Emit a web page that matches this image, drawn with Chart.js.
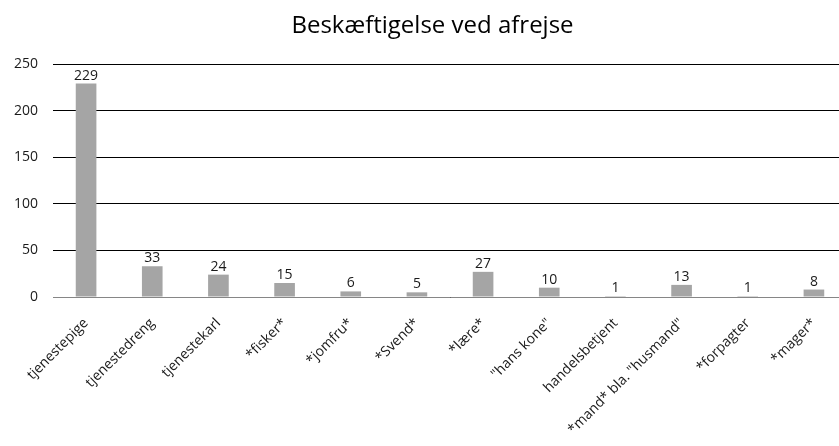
<!DOCTYPE html>
<html><head><meta charset="utf-8">
<script src="https://cdn.jsdelivr.net/npm/chart.js@4/dist/chart.umd.min.js"></script>
<style>html,body{margin:0;padding:0;background:#fff;overflow:hidden}#w{width:847px;height:446px}</style>
</head><body><div id="w"><canvas id="c"></canvas></div>
<script>
const categories = ["tjenestepige","tjenestedreng","tjenestekarl","*fisker*","*jomfru*","*Svend*","*lære*","\"hans kone\"","handelsbetjent","*mand* bla. \"husmand\"","*forpagter","*mager*"];
const values = [229,33,24,15,6,5,27,10,1,13,1,8];
const yTicks = [0,50,100,150,200,250];
const chartTitle = 'Beskæftigelse ved afrejse';
const FONT = "'Open Sans', 'Liberation Sans', sans-serif";

const extras = {
  id:'extras',
  afterDatasetsDraw(chart){
    const ctx = chart.ctx;
    const meta = chart.getDatasetMeta(0);
    ctx.save();
    ctx.font = "14px " + FONT;
    ctx.fillStyle = "#1a1a1a";
    ctx.textAlign = "center";
    ctx.textBaseline = "bottom";
    meta.data.forEach((bar,i)=>{
      ctx.fillText(String(values[i]), bar.x, bar.y - 1);
    });
    ctx.font = "24px " + FONT;
    ctx.fillStyle = "#000";
    ctx.textBaseline = "alphabetic";
    ctx.fillText(chartTitle, 432.5, 33);
    ctx.restore();
  }
};

new Chart(document.getElementById('c'),{
  type:'bar',
  data:{labels:categories,datasets:[{data:values,backgroundColor:'#a5a5a5',barPercentage:0.624,categoryPercentage:0.5}]},
  options:{
    responsive:true,maintainAspectRatio:false,animation:false,
    layout:{padding:{top:64,right:0,left:0,bottom:0}},
    plugins:{
      legend:{display:false},tooltip:{enabled:false},title:{display:false}
    },
    scales:{
      x:{
        grid:{display:false,drawTicks:false},
        border:{display:true,color:'#868686',width:1},
        ticks:{color:'#1a1a1a',font:{family:FONT,size:14},maxRotation:45,minRotation:45,padding:18,autoSkip:false},
        afterFit(s){s.height=149;}
      },
      y:{
        min:0,max:250,
        afterBuildTicks(s){s.ticks=yTicks.map(v=>({value:v}));},
        grid:{color:'#000',lineWidth:1,drawTicks:false},
        border:{display:false},
        ticks:{color:'#1a1a1a',font:{family:FONT,size:14},padding:15},
        afterFit(s){s.width=53;}
      }
    }
  },
  plugins:[extras]
});
</script></body></html>
